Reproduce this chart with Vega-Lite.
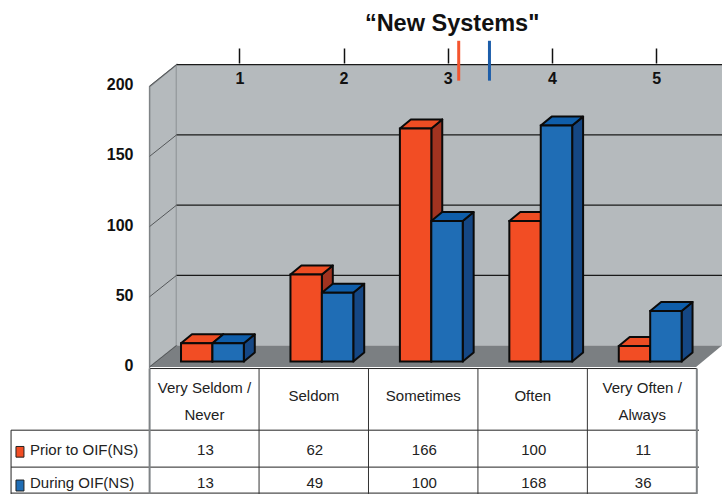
{
"$schema":"https://vega.github.io/schema/vega-lite/v6.json",
"width":723,"height":495,"padding":0,"autosize":{"type":"fit","contains":"padding"},
"background":"white",
"config":{"view":{"stroke":null},"text":{"font":"Liberation Sans"}},
"datasets":{
"bars":[
{"cat":1,"series":"Prior to OIF(NS)","value":13},{"cat":2,"series":"Prior to OIF(NS)","value":62},{"cat":3,"series":"Prior to OIF(NS)","value":166},{"cat":4,"series":"Prior to OIF(NS)","value":100},{"cat":5,"series":"Prior to OIF(NS)","value":11},
{"cat":1,"series":"During OIF(NS)","value":13},{"cat":2,"series":"During OIF(NS)","value":49},{"cat":3,"series":"During OIF(NS)","value":100},{"cat":4,"series":"During OIF(NS)","value":168},{"cat":5,"series":"During OIF(NS)","value":36}],
"headers":[
{"cat":1,"label":"Very Seldom /","line":1},{"cat":1,"label":"Never","line":2},{"cat":2,"label":"Seldom","line":0},{"cat":3,"label":"Sometimes","line":0},{"cat":4,"label":"Often","line":0},{"cat":5,"label":"Very Often /","line":1},{"cat":5,"label":"Always","line":2}],
"grid":[{"v":0},{"v":50},{"v":100},{"v":150},{"v":200}],
"hrules":[{"a":0.426,"b":5.426,"r":-5},{"a":-0.84,"b":5.446,"r":-48.9},{"a":-0.84,"b":5.446,"r":-75.2},{"a":-0.84,"b":5.426,"r":-93.7}],
"vrules":[{"p":1.426,"t":-5,"u":-94.3},{"p":2.426,"t":-5,"u":-94.3},{"p":3.426,"t":-5,"u":-94.3},{"p":4.426,"t":-5,"u":-94.3}],
"edges":[{"p":0.426,"t":-5,"u":-94.3},{"p":5.426,"t":-5,"u":-94.3}],
"ticks":[{"n":1},{"n":2},{"n":3},{"n":4},{"n":5}],
"means":[{"series":"Prior to OIF(NS)","mean":3.105},{"series":"During OIF(NS)","mean":3.4}]
},
"resolve":{"scale":{"x":"independent","color":"independent"}},
"layer":[
{"data":{"values":[{"t":0},{"t":1}]},"transform":[{"calculate":"0.426+0.246*datum.t","as":"px"},{"calculate":"-3.9+15.25*datum.t","as":"b"},{"calculate":"195.7+15.6*datum.t","as":"h"}],
 "mark":{"type":"area","orient":"vertical","fill":"#b5babd","stroke":"#7f8386","strokeWidth":1.5},
 "encoding":{"x":{"field":"px","type":"quantitative","axis":null,"scale":{"domain":[-0.941,5.647],"nice":false,"zero":false}},
 "y":{"field":"h","type":"quantitative","scale":{"domain":[-93.63,257.44],"nice":false,"zero":false},"axis":{"orient":"left","title":null,"offset":-133,"values":[0,50,100,150,200],"domain":false,"ticks":false,"grid":false,"labelPadding":0,"labelOffset":4,"labelFont":"Liberation Sans","labelFontWeight":"bold","labelFontSize":16,"labelColor":"#111","zindex":1}},
 "y2":{"field":"b"}}},
{"data":{"values":[{"part":"wall"}]},
 "mark":{"type":"rect","fill":"#b5babd"},
 "encoding":{"x":{"datum":0.672,"type":"quantitative","axis":null,"scale":{"domain":[-0.941,5.647],"nice":false,"zero":false}},"x2":{"datum":5.656},"y":{"datum":211.3,"type":"quantitative","scale":{"domain":[-93.63,257.44],"nice":false,"zero":false}},"y2":{"datum":11.35}}},
{"data":{"values":[{"t":0},{"t":1}]},"transform":[{"calculate":"0.426+0.246*datum.t","as":"l"},{"calculate":"5.419+0.237*datum.t","as":"r"},{"calculate":"-3.9+15.25*datum.t","as":"h"}],
 "mark":{"type":"area","orient":"horizontal","fill":"#7b7f82"},
 "encoding":{"x":{"field":"l","type":"quantitative","axis":null,"scale":{"domain":[-0.941,5.647],"nice":false,"zero":false}},"x2":{"field":"r"},"y":{"field":"h","type":"quantitative","scale":{"domain":[-93.63,257.44],"nice":false,"zero":false}}}},
{"data":{"name":"grid"},"transform":[{"filter":"datum.v>0"},{"calculate":"datum.v+11.35","as":"back"},{"calculate":"0.672","as":"a"},{"calculate":"5.656","as":"b"}],
 "mark":{"type":"rule","color":"#1a1a1a","strokeWidth":1.3},
 "encoding":{"x":{"field":"a","type":"quantitative","axis":null,"scale":{"domain":[-0.941,5.647],"nice":false,"zero":false}},"x2":{"field":"b"},"y":{"field":"back","type":"quantitative","scale":{"domain":[-93.63,257.44],"nice":false,"zero":false}}}},
{"data":{"name":"grid"},"transform":[{"calculate":"datum.v+11.35","as":"back"},{"calculate":"datum.v-3.9","as":"front"},{"calculate":"0.672","as":"a"},{"calculate":"0.426","as":"b"}],
 "mark":{"type":"rule","color":"#55585a","strokeWidth":1},
 "encoding":{"x":{"field":"a","type":"quantitative","axis":null,"scale":{"domain":[-0.941,5.647],"nice":false,"zero":false}},"x2":{"field":"b"},"y":{"field":"back","type":"quantitative","scale":{"domain":[-93.63,257.44],"nice":false,"zero":false}},"y2":{"field":"front"}}},
{"data":{"name":"bars"},"transform":[{"calculate":"datum.cat+(datum.series=='During OIF(NS)'?0.287:0)","as":"r"},{"calculate":"[0,1]","as":"t"},{"flatten":["t"]},{"calculate":"datum.r+0.1*datum.t","as":"sx"},{"calculate":"datum.value+6.4*datum.t","as":"hi"},{"calculate":"6.4*datum.t","as":"lo"}],
 "mark":{"type":"area","orient":"vertical","stroke":"#0a0a0a","strokeWidth":2,"strokeJoin":"round"},
 "encoding":{"detail":{"field":"cat"},"x":{"field":"sx","type":"quantitative","axis":null,"scale":{"domain":[-0.941,5.647],"nice":false,"zero":false}},"y":{"field":"hi","type":"quantitative","scale":{"domain":[-93.63,257.44],"nice":false,"zero":false}},"y2":{"field":"lo"},
 "color":{"field":"series","type":"nominal","legend":null,"scale":{"domain":["Prior to OIF(NS)","During OIF(NS)"],"range":["#a13320","#154784"]}}}},
{"data":{"name":"bars"},"transform":[{"calculate":"datum.cat+(datum.series=='During OIF(NS)'?0:-0.287)","as":"l"},{"calculate":"datum.l+0.287","as":"r"},{"calculate":"[0,1]","as":"t"},{"flatten":["t"]},{"calculate":"datum.l+0.1*datum.t","as":"tl"},{"calculate":"datum.r+0.1*datum.t","as":"tr"},{"calculate":"datum.value+6.4*datum.t","as":"hi"}],
 "mark":{"type":"area","orient":"horizontal","stroke":"#0a0a0a","strokeWidth":2,"strokeJoin":"round"},
 "encoding":{"detail":{"field":"cat"},"x":{"field":"tl","type":"quantitative","axis":null,"scale":{"domain":[-0.941,5.647],"nice":false,"zero":false}},"x2":{"field":"tr"},"y":{"field":"hi","type":"quantitative","scale":{"domain":[-93.63,257.44],"nice":false,"zero":false}},
 "color":{"field":"series","type":"nominal","legend":null,"scale":{"domain":["Prior to OIF(NS)","During OIF(NS)"],"range":["#ee4d23","#0f5eaa"]}}}},
{"data":{"name":"bars"},"transform":[{"calculate":"datum.cat+(datum.series=='During OIF(NS)'?0:-0.287)","as":"l"},{"calculate":"datum.l+0.287","as":"r"}],
 "mark":{"type":"rect","stroke":"#0a0a0a","strokeWidth":2},
 "encoding":{"x":{"field":"l","type":"quantitative","axis":null,"scale":{"domain":[-0.941,5.647],"nice":false,"zero":false}},"x2":{"field":"r"},"y":{"field":"value","type":"quantitative","scale":{"domain":[-93.63,257.44],"nice":false,"zero":false}},"y2":{"datum":0},
 "color":{"field":"series","type":"nominal","legend":null,"scale":{"domain":["Prior to OIF(NS)","During OIF(NS)"],"range":["#f24d24","#1f6db5"]}}}},
{"data":{"name":"ticks"},"transform":[{"calculate":"205","as":"lo"}],
 "mark":{"type":"rule","opacity":0},
 "encoding":{"x":{"field":"n","type":"quantitative","scale":{"domain":[-1.297,5.622],"nice":false,"zero":false},"axis":{"orient":"top","title":null,"offset":-63,"values":[1,2,3,4,5],"format":"d","domain":false,"grid":false,"tickSize":15,"tickWidth":1.5,"tickColor":"#111","labelPadding":-38,"labelFont":"Liberation Sans","labelFontWeight":"bold","labelFontSize":16,"labelColor":"#111","zindex":1}},"y":{"field":"lo","type":"quantitative","scale":{"domain":[-93.63,257.44],"nice":false,"zero":false}}}},
{"data":{"name":"means"},"transform":[{"calculate":"228.4","as":"a"},{"calculate":"200","as":"b"}],
 "mark":{"type":"rule","strokeWidth":3},
 "encoding":{"x":{"field":"mean","type":"quantitative","axis":null,"scale":{"domain":[-1.297,5.622],"nice":false,"zero":false}},"y":{"field":"a","type":"quantitative","scale":{"domain":[-93.63,257.44],"nice":false,"zero":false}},"y2":{"field":"b"},
 "color":{"field":"series","type":"nominal","legend":null,"scale":{"domain":["Prior to OIF(NS)","During OIF(NS)"],"range":["#f4552f","#1c5da9"]}}}},
{"data":{"values":[{"label":"“New Systems\""}]},"transform":[{"calculate":"3.19","as":"x"},{"calculate":"240.2","as":"y"}],
 "mark":{"type":"text","font":"Liberation Sans","fontWeight":"bold","fontSize":23.5,"align":"center","baseline":"middle","color":"#111"},
 "encoding":{"text":{"field":"label"},"x":{"field":"x","type":"quantitative","axis":null,"scale":{"domain":[-0.941,5.647],"nice":false,"zero":false}},"y":{"field":"y","type":"quantitative","scale":{"domain":[-93.63,257.44],"nice":false,"zero":false}}}},
{"data":{"name":"hrules"},"mark":{"type":"rule","color":"#222","strokeWidth":1},
 "encoding":{"x":{"field":"a","type":"quantitative","axis":null,"scale":{"domain":[-0.941,5.647],"nice":false,"zero":false}},"x2":{"field":"b"},"y":{"field":"r","type":"quantitative","scale":{"domain":[-93.63,257.44],"nice":false,"zero":false}}}},
{"data":{"name":"vrules"},"mark":{"type":"rule","color":"#333","strokeWidth":1},
 "encoding":{"x":{"field":"p","type":"quantitative","axis":null,"scale":{"domain":[-0.941,5.647],"nice":false,"zero":false}},"y":{"field":"t","type":"quantitative","scale":{"domain":[-93.63,257.44],"nice":false,"zero":false}},"y2":{"field":"u"}}},
{"data":{"name":"edges"},"mark":{"type":"rule","color":"#7f8386","strokeWidth":2},
 "encoding":{"x":{"field":"p","type":"quantitative","axis":null,"scale":{"domain":[-0.941,5.647],"nice":false,"zero":false}},"y":{"field":"t","type":"quantitative","scale":{"domain":[-93.63,257.44],"nice":false,"zero":false}},"y2":{"field":"u"}}},
{"data":{"values":[{"p":-0.84,"t":-48.9,"u":-94.3}]},"mark":{"type":"rule","color":"#222","strokeWidth":1},
 "encoding":{"x":{"field":"p","type":"quantitative","axis":null,"scale":{"domain":[-0.941,5.647],"nice":false,"zero":false}},"y":{"field":"t","type":"quantitative","scale":{"domain":[-93.63,257.44],"nice":false,"zero":false}},"y2":{"field":"u"}}},
{"data":{"name":"headers"},"transform":[{"calculate":"datum.cat-0.073","as":"x"},{"calculate":"datum.line==0?-24.8:(datum.line==1?-19.2:-38.3)","as":"y"}],
 "mark":{"type":"text","font":"Liberation Sans","fontSize":15,"align":"center","baseline":"middle","color":"#222"},
 "encoding":{"text":{"field":"label"},"x":{"field":"x","type":"quantitative","axis":null,"scale":{"domain":[-0.941,5.647],"nice":false,"zero":false}},"y":{"field":"y","type":"quantitative","scale":{"domain":[-93.63,257.44],"nice":false,"zero":false}}}},
{"data":{"name":"bars"},"transform":[{"calculate":"datum.cat-0.064","as":"x"},{"calculate":"datum.series=='During OIF(NS)'?-86.6:-63.2","as":"y"}],
 "mark":{"type":"text","font":"Liberation Sans","fontSize":15,"align":"center","baseline":"middle","color":"#222"},
 "encoding":{"text":{"field":"value","type":"quantitative"},"x":{"field":"x","type":"quantitative","axis":null,"scale":{"domain":[-0.941,5.647],"nice":false,"zero":false}},"y":{"field":"y","type":"quantitative","scale":{"domain":[-93.63,257.44],"nice":false,"zero":false}}}},
{"data":{"name":"means"},"transform":[{"calculate":"-0.667","as":"x"},{"calculate":"datum.series=='During OIF(NS)'?-86.6:-63.2","as":"y"}],
 "mark":{"type":"text","font":"Liberation Sans","fontSize":15,"align":"left","baseline":"middle","color":"#222"},
 "encoding":{"text":{"field":"series"},"x":{"field":"x","type":"quantitative","axis":null,"scale":{"domain":[-0.941,5.647],"nice":false,"zero":false}},"y":{"field":"y","type":"quantitative","scale":{"domain":[-93.63,257.44],"nice":false,"zero":false}}}},
{"data":{"name":"means"},"transform":[{"calculate":"-0.795","as":"a"},{"calculate":"-0.722","as":"b"},{"calculate":"datum.series=='During OIF(NS)'?-84.4:-60.5","as":"hi"},{"calculate":"datum.series=='During OIF(NS)'?-92.2:-68.1","as":"lo"}],
 "mark":{"type":"rect","stroke":"#222","strokeWidth":1},
 "encoding":{"x":{"field":"a","type":"quantitative","axis":null,"scale":{"domain":[-0.941,5.647],"nice":false,"zero":false}},"x2":{"field":"b"},"y":{"field":"hi","type":"quantitative","scale":{"domain":[-93.63,257.44],"nice":false,"zero":false}},"y2":{"field":"lo"},
 "color":{"field":"series","type":"nominal","title":null,"legend":null,"scale":{"domain":["Prior to OIF(NS)","During OIF(NS)"],"range":["#f24d24","#1f6db5"]}}}}
]
}
